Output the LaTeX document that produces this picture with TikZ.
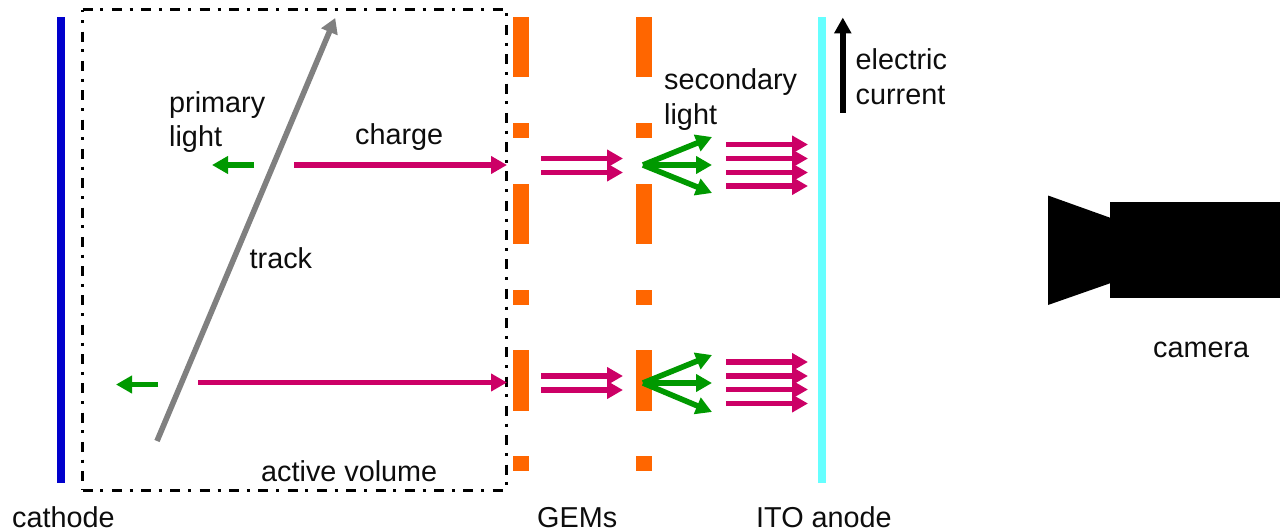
\documentclass[tikz,border=0pt]{standalone}
\usepackage{fontspec}
\setmainfont{Liberation Sans}
\usetikzlibrary{arrows.meta}
\definecolor{gemc}{RGB}{255,102,0}
\definecolor{chargec}{RGB}{204,0,102}
\definecolor{lightc}{RGB}{0,153,0}
\definecolor{trackc}{RGB}{128,128,128}
\definecolor{anodec}{RGB}{102,255,255}
\definecolor{cathc}{RGB}{0,0,204}
\tikzset{
  x=1pt,y=-1pt,
  lab/.style={font=\fontsize{28.8}{33.5}\selectfont,inner sep=0pt,align=left,text=black!95},
  gemseg/.style={fill=gemc,draw=none},
  chargearrow/.style={draw=chargec,line width=5.6pt,-{Triangle[length=16pt,width=17pt]}},
  lightarrow/.style={draw=lightc,line width=5.6pt,-{Triangle[length=16pt,width=17pt]}},
  trackarrow/.style={draw=trackc,line width=5.6pt,-{Triangle[length=15pt,width=17pt]}},
  currentarrow/.style={draw=black,line width=5.4pt,-{Triangle[length=16pt,width=16.5pt]}},
  volume/.style={draw=black,line width=3pt,dash pattern=on 10pt off 7.8pt on 3pt off 8.5pt},
}
\begin{document}
\begin{tikzpicture}
\useasboundingbox (0,0) rectangle (1280,532);
% electrodes
\fill[cathc] (57,17) rectangle (65,483);
\fill[anodec] (818,17) rectangle (826,483);
% GEM segments
\foreach \gx in {513,636}{
  \fill[gemseg] (\gx,17) rectangle ++(15.5,60.5);
  \fill[gemseg] (\gx,123) rectangle ++(15.5,15);
  \fill[gemseg] (\gx,183.5) rectangle ++(15.5,60.5);
  \fill[gemseg] (\gx,289.5) rectangle ++(15.5,15);
  \fill[gemseg] (\gx,350) rectangle ++(15.5,60.5);
  \fill[gemseg] (\gx,456) rectangle ++(15.5,15);
}
% active volume
\coordinate (vTL) at (82.5,10); \coordinate (vTR) at (506.5,10);
\coordinate (vBL) at (82.5,490); \coordinate (vBR) at (506.5,490);
\draw[volume] (vTL) -- (vTR);
\draw[volume] (vBL) -- (vBR);
\draw[volume,dash phase=7.6pt] (vTL) -- (vBL);
\draw[volume,dash phase=14.3pt] (vTR) -- (vBR);
% free ends
\coordinate (trA) at (157,441); \coordinate (trB) at (335.2,18);
\coordinate (p1a) at (254,165); \coordinate (p1b) at (212,165);
\coordinate (p2a) at (158,384.5); \coordinate (p2b) at (116,384.5);
\coordinate (c1a) at (294,165); \coordinate (c1b) at (507,165);
\coordinate (c2a) at (198,382.5); \coordinate (c2b) at (507,382.5);
\coordinate (curA) at (842.8,113); \coordinate (curB) at (842.8,17.5);
\draw[trackarrow] (trA) -- (trB);
\draw[lightarrow] (p1a) -- (p1b);
\draw[lightarrow] (p2a) -- (p2b);
\draw[chargearrow] (c1a) -- (c1b);
\draw[chargearrow] (c2a) -- (c2b);
\draw[currentarrow] (curA) -- (curB);
% charge between GEMs
\foreach \n/\yy in {a/158.5,b/172.5,c/376,d/390}{
  \coordinate (g\n s) at (541,\yy); \coordinate (g\n e) at (623,\yy);
  \draw[chargearrow] (g\n s) -- (g\n e);
}
% charge after second GEM
\foreach \n/\yy in {a/144.5,b/158.5,c/172.5,d/186,e/362,f/376,g/389.5,h/403.5}{
  \coordinate (r\n s) at (726,\yy); \coordinate (r\n e) at (808,\yy);
  \draw[chargearrow] (r\n s) -- (r\n e);
}
% secondary light fans
\coordinate (f1) at (643,165); \coordinate (f2) at (643,383);
\coordinate (f1a) at (712,137); \coordinate (f1b) at (712,165); \coordinate (f1c) at (712,193);
\coordinate (f2a) at (712,355); \coordinate (f2b) at (712,383); \coordinate (f2c) at (712,412);
\foreach \t in {f1a,f1b,f1c}{\draw[lightarrow] (f1) -- (\t);}
\foreach \t in {f2a,f2b,f2c}{\draw[lightarrow] (f2) -- (\t);}
% camera
\fill[black] (1110,202) rectangle (1280,298);
\fill[black] (1048,195.5) -- (1110,217.7) -- (1110,283.3) -- (1048,305) -- cycle;
% labels
\node[lab,anchor=base west] (lprim) at (169,113) {primary};
\node[lab,anchor=base west] (llight) at (169,147) {light};
\node[lab,anchor=base west] (lcharge) at (355,144.6) {charge};
\node[lab,anchor=base west] (ltrack) at (249.5,268) {track};
\node[lab,anchor=base west] (lvol) at (261,481) {active volume};
\node[lab,anchor=base west] (lcath) at (12,527) {cathode};
\node[lab,anchor=base west] (lgem) at (537,527) {GEMs};
\node[lab,anchor=base west] (lito) at (756,527) {ITO anode};
\node[lab,anchor=base west] (lsec) at (664,90) {secondary};
\node[lab,anchor=base west] (lsl) at (664,125) {light};
\node[lab,anchor=base west] (lel) at (855.5,70) {electric};
\node[lab,anchor=base west] (lcur) at (855.5,105) {current};
\node[lab,anchor=base west] (lcam) at (1153,357) {camera};
\end{tikzpicture}
\end{document}
